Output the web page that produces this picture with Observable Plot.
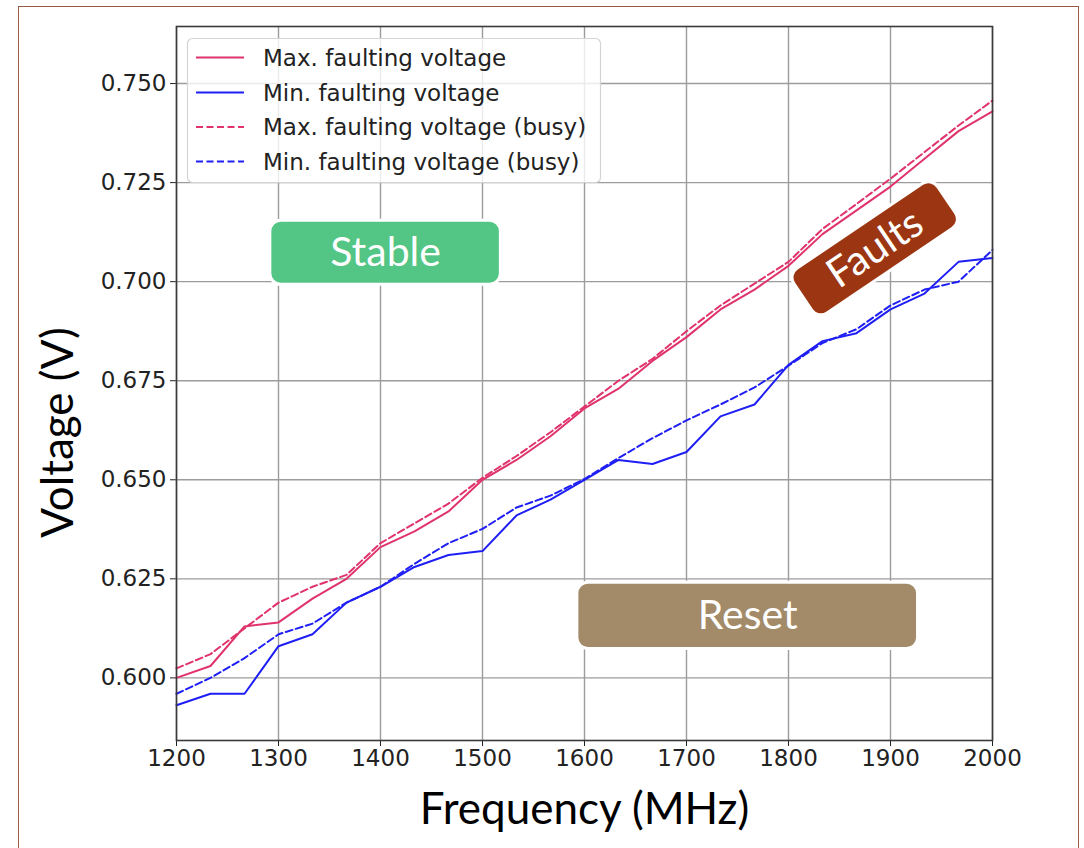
<!DOCTYPE html>
<html>
<head>
<meta charset="utf-8">
<script src="https://cdn.jsdelivr.net/npm/d3@7"></script>
<script src="https://cdn.jsdelivr.net/npm/@observablehq/plot@0.6"></script>
<style>
html, body { margin: 0; padding: 0; background: #fff; }
#wrap { position: relative; width: 1084px; height: 848px; overflow: hidden; }
#border { position: absolute; left: 18px; top: 6px; width: 1061px; height: 900px; border: 1px solid #9a5a45; box-sizing: border-box; pointer-events: none; }
#legend { position: absolute; left: 0; top: 0; pointer-events: none; }
</style>
</head>
<body>
<div id="wrap"><div id="border"></div></div>
<script>
// ---- data ----
const freq = [1200, 1233.33, 1266.67, 1300, 1333.33, 1366.67, 1400, 1433.33, 1466.67, 1500,
  1533.33, 1566.67, 1600, 1633.33, 1666.67, 1700, 1733.33, 1766.67, 1800, 1833.33,
  1866.67, 1900, 1933.33, 1966.67, 2000];
const maxFault = [0.600, 0.603, 0.613, 0.614, 0.620, 0.625, 0.633, 0.637, 0.642, 0.650,
  0.655, 0.661, 0.668, 0.673, 0.680, 0.686, 0.693, 0.698, 0.704, 0.712,
  0.718, 0.724, 0.731, 0.738, 0.743];
const minFault = [0.5931, 0.596, 0.596, 0.608, 0.611, 0.619, 0.623, 0.628, 0.631, 0.632,
  0.641, 0.645, 0.650, 0.655, 0.654, 0.657, 0.666, 0.669, 0.679, 0.685,
  0.687, 0.693, 0.697, 0.705, 0.706];
const maxFaultBusy = [0.6024, 0.606, 0.6125, 0.619, 0.623, 0.626, 0.634, 0.639, 0.644, 0.6505,
  0.656, 0.662, 0.6685, 0.675, 0.6805, 0.6875, 0.694, 0.6995, 0.705, 0.7133,
  0.7196, 0.726, 0.7327, 0.7394, 0.7457];
const minFaultBusy = [0.596, 0.600, 0.605, 0.611, 0.6137, 0.619, 0.623, 0.6288, 0.634, 0.6376,
  0.643, 0.646, 0.6502, 0.6555, 0.6605, 0.665, 0.669, 0.6733, 0.6788, 0.6845,
  0.688, 0.694, 0.698, 0.700, 0.708];
const seriesNames = ["Max. faulting voltage", "Min. faulting voltage",
  "Max. faulting voltage (busy)", "Min. faulting voltage (busy)"];
const xTicks = [1200, 1300, 1400, 1500, 1600, 1700, 1800, 1900, 2000];
const yTicks = [0.600, 0.625, 0.650, 0.675, 0.700, 0.725, 0.750];
const xLabel = "Frequency (MHz)";
const yLabel = "Voltage (V)";
const regionLabels = ["Stable", "Reset", "Faults"];

// ---- styles / layout ----
const PINK = "#e0336b", BLUE = "#1f1ff5";
const FAULT_FILL = "#9c3612";
const seriesStyle = [
  {color: PINK, dash: null},
  {color: BLUE, dash: null},
  {color: PINK, dash: "7,3.5"},
  {color: BLUE, dash: "7,3.5"}
];
const valueSets = [maxFault, minFault, maxFaultBusy, minFaultBusy];
const rows = seriesNames.flatMap((name, s) => freq.map((f, i) => ({freq: f, v: valueSets[s][i], series: name})));

// annotation boxes in data coordinates
const boxes = [
  {label: regionLabels[0], x1: 1292, x2: 1518, y1: 0.6992, y2: 0.7154, fill: "#53c585", rotate: 0},
  {label: regionLabels[1], x1: 1593, x2: 1927, y1: 0.6073, y2: 0.6240, fill: "#a38b69", rotate: 0},
  {label: regionLabels[2], x1: 1800, x2: 1970, y1: 0.7015, y2: 0.7151, fill: FAULT_FILL, rotate: -34}
];

const W = 1084, H = 848;
const mL = 176, mR = 92, mT = 26, mB = 108;

const marks = [
  Plot.ruleX(xTicks, {stroke: "#9c9c9c", strokeWidth: 1.4}),
  Plot.ruleY(yTicks, {stroke: "#9c9c9c", strokeWidth: 1.4}),
  ...seriesNames.map((name, s) => Plot.line(rows.filter(d => d.series === name), {
    x: "freq", y: "v", stroke: seriesStyle[s].color, strokeWidth: 2,
    strokeDasharray: seriesStyle[s].dash ?? undefined
  })),
  Plot.frame({stroke: "#3a3a3a", strokeWidth: 1.6}),
  ...boxes.map(b => Plot.rect([b], {
    x1: "x1", x2: "x2", y1: "y1", y2: "y2", fill: b.fill, stroke: "white", strokeWidth: 3, rx: 11
  })),
  ...boxes.map(b => Plot.text([b], {
    x: d => (d.x1 + d.x2) / 2, y: d => (d.y1 + d.y2) / 2, text: "label",
    fill: "white", fontSize: 41, fontFamily: "Lato", rotate: b.rotate
  })),
  Plot.text([xLabel], {frameAnchor: "bottom", lineAnchor: "middle", textAnchor: "middle", dy: 69,
    text: d => d, fontSize: 44, fontFamily: "Lato", fill: "black"}),
  Plot.text([yLabel], {frameAnchor: "left", lineAnchor: "middle", textAnchor: "middle", dx: -118, dy: 49,
    rotate: -90, text: d => d, fontSize: 44, fontFamily: "Lato", fill: "black"})
];

const chart = Plot.plot({
  width: W, height: H,
  marginLeft: mL, marginRight: mR, marginTop: mT, marginBottom: mB,
  style: {fontFamily: "DejaVu Sans", fontSize: "23px", color: "#222", background: "transparent", overflow: "visible"},
  x: {domain: [1200, 2000], ticks: xTicks, tickFormat: d => String(d), tickSize: 6, tickPadding: 3, label: null},
  y: {domain: [0.5842, 0.7644], ticks: yTicks, tickFormat: d3.format(".3f"), tickSize: 6, tickPadding: 4, label: null},
  marks
});
document.getElementById("wrap").appendChild(chart);

// rotate the Faults box about its centre
const svgEl = chart.tagName.toLowerCase() === "svg" ? chart : chart.querySelector("svg");
const norm = c => (c || "").toLowerCase();
svgEl.querySelectorAll("rect, path").forEach(el => {
  const f = norm(el.getAttribute("fill")) || norm(el.parentNode.getAttribute && el.parentNode.getAttribute("fill"));
  if (f === FAULT_FILL) {
    const bb = el.getBBox();
    el.setAttribute("transform", `rotate(-34, ${bb.x + bb.width / 2}, ${bb.y + bb.height / 2})`);
  }
});

// legend (inside the axes, upper left)
const leg = d3.select("#wrap").append("svg").attr("id", "legend").attr("width", W).attr("height", H);
leg.append("rect").attr("x", 187.5).attr("y", 38.5).attr("width", 413).attr("height", 144)
  .attr("rx", 5).attr("fill", "white").attr("fill-opacity", 0.8).attr("stroke", "#d4d4d4").attr("stroke-width", 1.2);
const rowY = [57.5, 92.5, 127, 161.5];
seriesNames.forEach((name, s) => {
  const g = leg.append("g");
  g.append("line").attr("x1", 196).attr("x2", 244).attr("y1", rowY[s]).attr("y2", rowY[s])
    .attr("stroke", seriesStyle[s].color).attr("stroke-width", 2)
    .attr("stroke-dasharray", seriesStyle[s].dash);
  g.append("text").attr("x", 263).attr("y", rowY[s]).attr("dy", "0.36em")
    .attr("font-family", "DejaVu Sans").attr("font-size", 23).attr("fill", "#222").text(name);
});
</script>
</body>
</html>
